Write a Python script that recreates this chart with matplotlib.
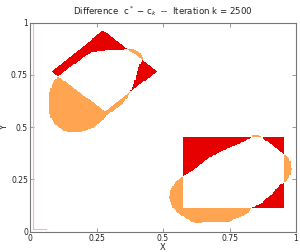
import numpy as np
import matplotlib
matplotlib.use("Agg")
import matplotlib.pyplot as plt
from matplotlib.path import Path
from matplotlib.colors import ListedColormap

# --- data: target shapes c* ---
diamond_x = [0.082, 0.273, 0.476, 0.282]
diamond_y = [0.763, 0.960, 0.766, 0.574]
rect_x = [0.570, 0.950, 0.950, 0.570]
rect_y = [0.112, 0.112, 0.450, 0.450]

# --- data: current iterate c_k (boundary) ---
blob1_x = [0.105, 0.124, 0.150, 0.169, 0.199, 0.229, 0.263, 0.301, 0.338, 0.365,
           0.391, 0.414, 0.425, 0.414, 0.406, 0.398, 0.391, 0.380, 0.365, 0.338,
           0.312, 0.289, 0.271, 0.237, 0.199, 0.162, 0.124, 0.094, 0.075, 0.069,
           0.073, 0.082, 0.094]
blob1_y = [0.740, 0.759, 0.788, 0.802, 0.831, 0.855, 0.861, 0.869, 0.865, 0.874,
           0.869, 0.850, 0.826, 0.803, 0.784, 0.750, 0.712, 0.678, 0.640, 0.601,
           0.578, 0.558, 0.530, 0.496, 0.479, 0.474, 0.482, 0.511, 0.549, 0.616,
           0.664, 0.702, 0.726]
blob2_x = [0.570, 0.613, 0.664, 0.714, 0.752, 0.789, 0.827, 0.835, 0.853, 0.868,
           0.876, 0.909, 0.933, 0.947, 0.966, 0.977, 0.979, 0.970, 0.947, 0.940,
           0.902, 0.865, 0.827, 0.815, 0.777, 0.741, 0.613, 0.576, 0.552, 0.533,
           0.520, 0.526, 0.545]
blob2_y = [0.263, 0.295, 0.348, 0.383, 0.405, 0.424, 0.448, 0.460, 0.463, 0.453,
           0.441, 0.415, 0.386, 0.374, 0.357, 0.333, 0.295, 0.257, 0.231, 0.228,
           0.176, 0.136, 0.112, 0.088, 0.067, 0.046, 0.045, 0.072, 0.094, 0.120,
           0.160, 0.200, 0.239]

iteration = 2500
tick_vals = [0, 0.25, 0.5, 0.75, 1]
tick_labels = ["0", "0.25", "0.5", "0.75", "1"]

N = 210
g = (np.arange(N) + 0.5) / N
X, Y = np.meshgrid(g, g)
pts = np.column_stack([X.ravel(), Y.ravel()])

def inside(xs, ys):
    p = Path(np.column_stack([xs, ys]), closed=False)
    return p.contains_points(pts).reshape(N, N)

c_star = (inside(diamond_x, diamond_y) | inside(rect_x, rect_y)).astype(float)
c_k = (inside(blob1_x, blob1_y) | inside(blob2_x, blob2_y)).astype(float)
diff = c_star - c_k

red = "#E60000"
orange = "#FFA552"
cmap = ListedColormap([orange, "white", red])

fig = plt.figure(figsize=(3.0, 2.52), dpi=100)
ax = fig.add_axes([0.100, 0.0806, 0.8867, 0.8294])
ax.imshow(diff, cmap=cmap, vmin=-1.5, vmax=1.5, origin="lower",
          extent=[0, 1, 0, 1], interpolation="nearest", aspect="auto")
ax.plot([0.010, 0.010], [0.015, 1.0], color="#FFB4B4", lw=0.8)
ax.plot([0.010, 0.06], [0.015, 0.015], color="#FFB4B4", lw=0.8)

ax.set_xlim(0, 1)
ax.set_ylim(0, 1)
ax.set_xticks(tick_vals)
ax.set_xticklabels(tick_labels)
ax.set_yticks(tick_vals)
ax.set_yticklabels(tick_labels)
ax.tick_params(direction="in", length=3, width=0.6, color="#888888",
               labelsize=5.5, top=True, right=True, pad=1.5, labelcolor="#222222")
for s in ax.spines.values():
    s.set_color("#777777")
    s.set_linewidth(0.8)
ax.set_xlabel("X", fontsize=6, labelpad=0, color="#222222")
ax.set_ylabel("Y", fontsize=6, color="#222222")
ax.yaxis.set_label_coords(-0.078, 0.5)
ax.set_title(r"Difference  c$^*$ $-$ c$_k$  --  Iteration k = %d" % iteration,
             fontsize=6.2, pad=6, color="#222222")

fig.savefig("out.png", dpi=100)
